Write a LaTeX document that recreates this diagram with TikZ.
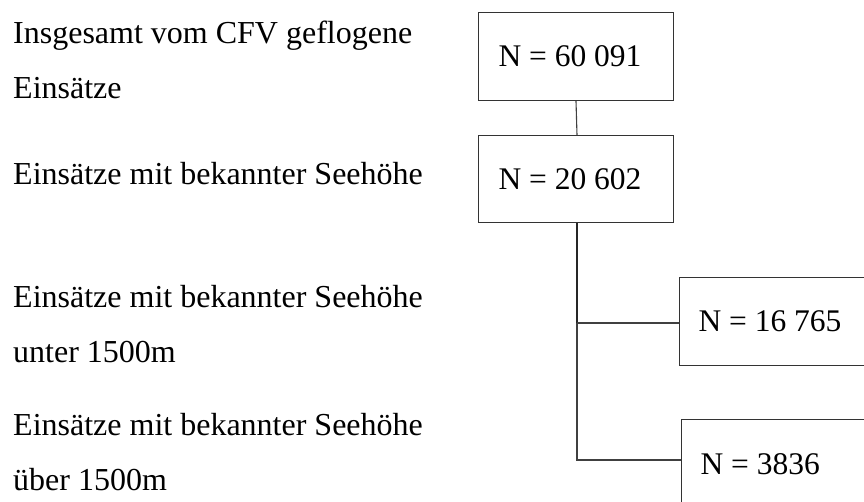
\documentclass[tikz,border=0pt]{standalone}
\usepackage{fontspec}
\setmainfont{Liberation Serif}
\newcommand{\tightspaces}{\spaceskip=0.25em\relax\xspaceskip=0.25em\relax}
\begin{document}
\begin{tikzpicture}[x=1pt,y=-1pt,
  lbl/.style={anchor=base west, inner sep=0pt, font=\fontsize{32}{38}\selectfont},
  nbox/.style={draw=black!80, line width=1.2pt, anchor=north west, align=left,
    inner xsep=20pt, inner ysep=0pt, font=\fontsize{31.5}{38}\selectfont,
    execute at begin node=\tightspaces},
  conn/.style={draw=black!75, line width=1.1pt},
  thickconn/.style={draw=black!85, line width=2pt}]
\useasboundingbox (0,0) rectangle (864,501);
\clip (0,0) rectangle (864,501);
% left labels
\node[lbl] (l1a) at (13,43) {Insgesamt vom CFV geflogene};
\node[lbl] (l1b) at (13,98) {Einsätze};
\node[lbl] (l2) at (13,184) {Einsätze mit bekannter Seehöhe};
\node[lbl] (l3a) at (13,307) {Einsätze mit bekannter Seehöhe};
\node[lbl] (l3b) at (13,362) {unter 1500m};
\node[lbl] (l4a) at (13,435) {Einsätze mit bekannter Seehöhe};
\node[lbl] (l4b) at (13,490) {über 1500m};
% boxes
\node[nbox, text width=155pt, minimum height=88pt] (b1) at (478,12) {N = 60 091};
\node[nbox, text width=155pt, minimum height=87pt] (b2) at (478,135) {N = 20 602};
\node[nbox, text width=260pt, inner xsep=19pt, minimum height=88pt] (b3) at (679,277) {N = 16 765};
\node[nbox, text width=260pt, inner xsep=19pt, minimum height=90pt] (b4) at (681,419) {N = 3836};
% connectors
\coordinate (j1) at (577,323);
\coordinate (j2) at (577,460);
\draw[conn] (b1.south -| 576,0) -- (b2.north -| 577,0);
\draw[thickconn] (b2.south -| j1) -- (j1);
\draw[conn] (j1) -- (b3.west |- j1);
\draw[conn] (j1) -- (j2) -- (b4.west |- j2);
\end{tikzpicture}
\end{document}
